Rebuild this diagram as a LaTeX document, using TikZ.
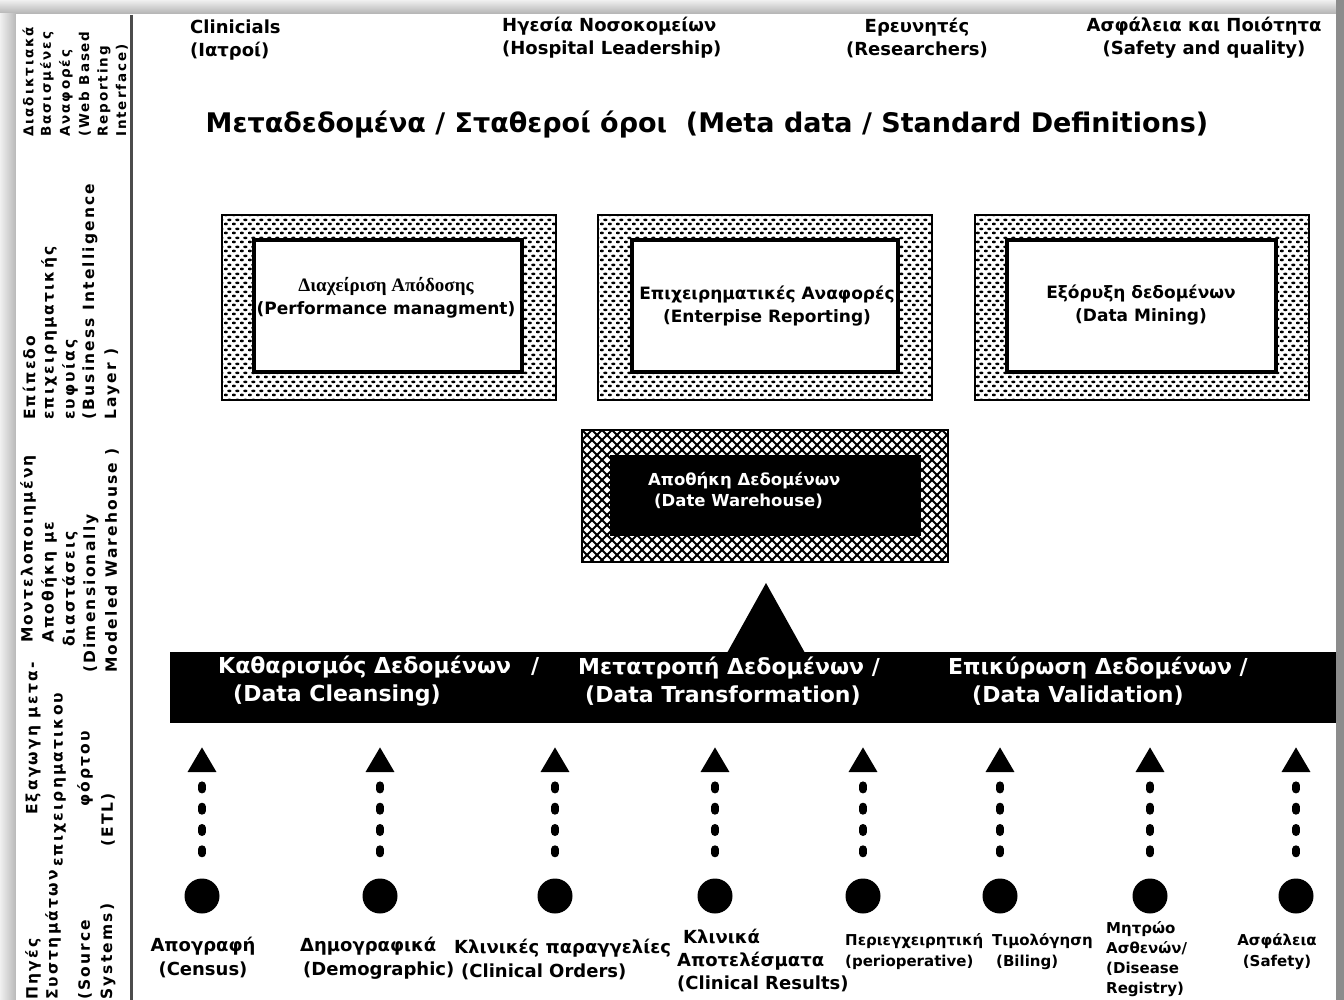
\documentclass[tikz,border=0pt]{standalone}
\usepackage{fontspec}
\setmainfont{DejaVu Sans}
\newfontfamily\sidef{DejaVu Sans}[LetterSpace=14]
\newfontfamily\serf{Liberation Serif}
\usetikzlibrary{patterns,arrows.meta}

% staggered dot screen used in the ring of the BI boxes
\pgfdeclarepatternformonly{boxdots}{\pgfpointorigin}{\pgfpoint{8pt}{9pt}}{\pgfpoint{8pt}{9pt}}{%
  \pgfpathellipse{\pgfpoint{2pt}{2.25pt}}{\pgfpoint{2.4pt}{0pt}}{\pgfpoint{0pt}{1.5pt}}%
  \pgfpathellipse{\pgfpoint{6pt}{6.75pt}}{\pgfpoint{2.4pt}{0pt}}{\pgfpoint{0pt}{1.5pt}}%
  \pgfusepath{fill}}

\tikzset{
  lbl/.style={inner sep=0pt, font=\bfseries},
  vlab/.style={inner sep=0pt, rotate=90, anchor=west, font=\sidef\fontsize{15.5}{18}\selectfont\bfseries},
  vlabsmall/.style={vlab, font=\sidef\fontsize{13.5}{16}\selectfont\bfseries},
  toplbl/.style={lbl, font=\fontsize{18}{23}\selectfont\bfseries},
  titlelbl/.style={lbl, font=\fontsize{27}{32}\selectfont\bfseries},
  outerbox/.style={draw, line width=2.5pt, pattern=boxdots, minimum width=334pt, minimum height=185pt, inner sep=0pt},
  innerbox/.style={draw, line width=4pt, fill=white, minimum height=132pt, inner sep=0pt},
  boxtxt/.style={lbl, align=center, font=\fontsize{17}{23}\selectfont\bfseries},
  whbox/.style={draw, line width=2.5pt, fill=white, minimum width=366pt, minimum height=132pt, inner sep=0pt,
    path picture={
      \foreach \k in {-15,...,52}{
        \draw[line width=2.1pt] ([xshift=\k*10pt]path picture bounding box.north west) -- ++(150pt,-150pt);
        \draw[line width=2.1pt] ([xshift=\k*10pt]path picture bounding box.north west) -- ++(-150pt,-150pt);
      }}},
  whin/.style={fill=black, draw=black, minimum width=310pt, minimum height=80pt, inner sep=0pt},
  whtxt/.style={lbl, text=white, align=left, font=\fontsize{16.5}{21}\selectfont\bfseries},
  bandbox/.style={fill=black, minimum width=1166pt, minimum height=71pt, inner sep=0pt},
  bandtxt/.style={lbl, text=white, align=left, anchor=west, font=\fontsize{22}{28}\selectfont\bfseries},
  srcdot/.style={circle, fill=black, minimum size=35pt, inner sep=0pt},
  srcarrow/.style={line width=8pt, line cap=round, dash pattern=on 4pt off 17.3pt, shorten <=25pt,
    -{Triangle[width=27pt,length=25pt]}},
  srcbig/.style={lbl, font=\fontsize{18}{24}\selectfont\bfseries},
  srcsmall/.style={lbl, font=\fontsize{15}{21}\selectfont\bfseries},
}

\begin{document}
\begin{tikzpicture}[x=1pt,y=-1pt]
\useasboundingbox (0,0) rectangle (1344,1000);

% sheet with its shadowed edges
\fill[black!14] (0,0) rectangle (1344,1000);
\shade[top color=black!6, bottom color=black!30] (0,0) rectangle (1344,14);
\shade[left color=black!6, right color=black!28] (0,14) rectangle (16,1000);
\fill[black!45] (1336,0) rectangle (1344,1000);
\fill[white] (16,14) rectangle (1336,1000);
\draw[black!70, line width=3pt] (131,15) -- (131,1000);

% layer names in the left column
\node[vlabsmall] (la1) at (28,137) {Διαδικτιακά};
\node[vlabsmall] (la2) at (47,137) {Βασισμένες};
\node[vlabsmall] (la3) at (66,137) {Αναφορές};
\node[vlabsmall] (la4) at (85,137) {(Web Based};
\node[vlabsmall] (la5) at (104,137) {Reporting};
\node[vlabsmall] (la6) at (122,137) {Interface)};

\node[vlab] (lb1) at (29,420) {Επίπεδο};
\node[vlab] (lb2) at (49,420) {επιχειρηματικής};
\node[vlab] (lb3) at (70,420) {ευφυίας};
\node[vlab] (lb4) at (90,420) {(Business Intelligence};
\node[vlab] (lb5) at (112,420) {Layer )};

\node[vlab] (lc1) at (28,643) {Μοντελοποιημένη};
\node[vlab] (lc2) at (49,643) {Αποθήκη με};
\node[vlab] (lc3) at (70,647) {διαστάσεις};
\node[vlab] (lc4) at (91,673) {(Dimensionally};
\node[vlab] (lc5) at (112,673) {Modeled Warehouse )};

\node[vlab] (ld1) at (33,815) {Εξαγωγη μετα-};
\node[vlab] (ld2) at (60,867) {επιχειρηματικου};
\node[vlab] (ld3) at (85,807) {φόρτου};
\node[vlab] (ld4) at (108,847) {(ETL)};

\node[vlab] (le1) at (33,1000) {Πηγές};
\node[vlab] (le2) at (53,1000) {Συστημάτων};
\node[vlab] (le3) at (85,1000) {(Source};
\node[vlab] (le4) at (108,1000) {Systems)};

% report consumers
\node[toplbl, align=left, anchor=west] (clin) at (190,40.5) {Clinicials\\(Ιατροί)};
\node[toplbl, align=left, anchor=west] (lead) at (502,37.5) {Ηγεσία Νοσοκομείων\\(Hospital Leadership)};
\node[toplbl, align=center] (resr) at (917,37.5) {Ερευνητές\\(Researchers)};
\node[toplbl, align=center] (safq) at (1204,37.5) {Ασφάλεια και Ποιότητα\\(Safety and quality)};

\node[titlelbl] (meta) at (707,125) {Μεταδεδομένα / Σταθεροί όροι \ (Meta data / Standard Definitions)};

% business intelligence applications
\node[outerbox] (bi1) at (389,307.5) {};
\node[innerbox, minimum width=268pt] (bi1in) at (388,306) {};
\node[boxtxt] (bi1t) at (386,298) {{\serf\fontsize{19}{24}\selectfont Διαχείριση Απόδοσης}\\(Performance managment)};

\node[outerbox] (bi2) at (765,307.5) {};
\node[innerbox, minimum width=266pt] (bi2in) at (765,306) {};
\node[boxtxt] (bi2t) at (767,306) {Επιχειρηματικές Αναφορές\\(Enterpise Reporting)};

\node[outerbox] (bi3) at (1142,307.5) {};
\node[innerbox, minimum width=269pt] (bi3in) at (1141.5,306) {};
\node[boxtxt] (bi3t) at (1141,305) {Εξόρυξη δεδομένων\\(Data Mining)};

% data warehouse
\node[whbox] (wh) at (765,496) {};
\node[whin] (whin) at (765,495) {};
\node[whtxt, anchor=west] (wht) at (648,490) {Αποθήκη Δεδομένων\\\hspace*{6pt}(Date Warehouse)};

% ETL band feeding the warehouse
\node[bandbox] (band) at (753,687.5) {};
\fill (766,583) -- (727,653) -- (805,653) -- cycle;
\node[bandtxt] (etl1) at (218,681) {Καθαρισμός Δεδομένων\hspace{20pt}/\\\hspace*{15pt}(Data Cleansing)};
\node[bandtxt] (etl2) at (578,681) {Μετατροπή Δεδομένων /\\\hspace*{7pt}(Data Transformation)};
\node[bandtxt] (etl3) at (948,681) {Επικύρωση Δεδομένων /\\\hspace*{24pt}(Data Validation)};

% source systems and their feeds
\foreach \i/\x in {1/202,2/380,3/555,4/715,5/863,6/1000,7/1150,8/1296}{
  \node[srcdot] (s\i) at (\x,896) {};
  \coordinate (t\i) at (\x,747);
  \draw[srcarrow] (s\i) -- (t\i);
}

\node[srcbig, align=center] (n1) at (203,957) {Απογραφή\\(Census)};
\node[srcbig, align=left, anchor=west] (n2) at (300,958) {Δημογραφικά\\\hspace*{3pt}(Demographic)};
\node[srcbig, align=left, anchor=west] (n3) at (454,959) {Κλινικές παραγγελίες\\\hspace*{7pt}(Clinical Orders)};
\node[srcbig, align=left, anchor=west, font=\fontsize{18}{23}\selectfont\bfseries] (n4) at (677,960) {\hspace*{6pt}Κλινικά\\Αποτελέσματα\\(Clinical Results)};
\node[srcsmall, align=left, anchor=west] (n5) at (845,952) {Περιεγχειρητική\\(perioperative)};
\node[srcsmall, align=left, anchor=west] (n6) at (992,952) {Τιμολόγηση\\\hspace*{4pt}(Biling)};
\node[srcsmall, align=left, anchor=west, font=\fontsize{15}{20}\selectfont\bfseries] (n7) at (1106,959) {Μητρώο\\Ασθενών/\\(Disease\\Registry)};
\node[srcsmall, align=center] (n8) at (1277,952) {Ασφάλεια\\(Safety)};

\end{tikzpicture}
\end{document}
